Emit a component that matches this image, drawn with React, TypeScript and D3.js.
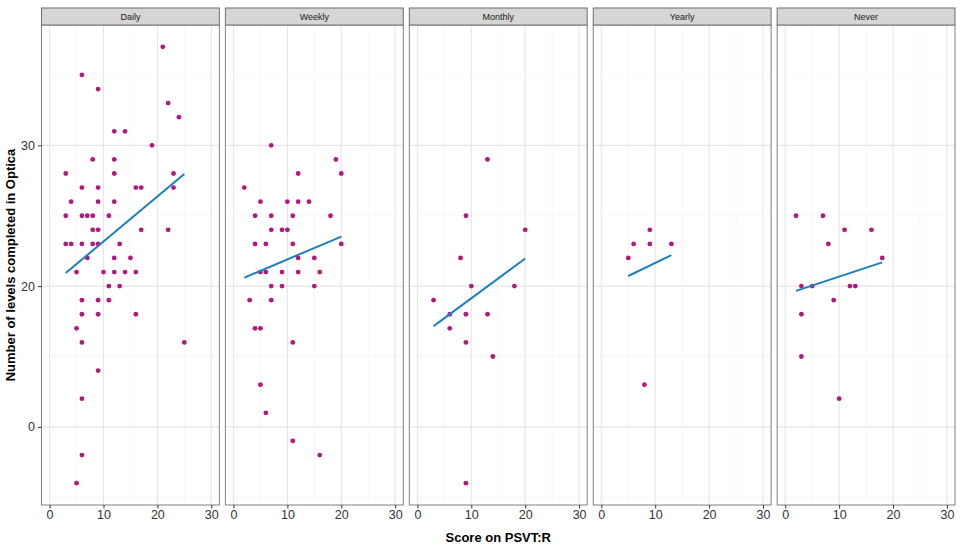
import { useEffect, useRef } from 'react'
import * as d3 from 'd3'

// panels (facets) in display order
const panels = ['Daily', 'Weekly', 'Monthly', 'Yearly', 'Never']

// points: x = score on PSVT:R, y = levels completed
const dailyX = [21, 6, 9, 22, 24, 12, 14, 19, 8, 12, 3, 12, 23, 6, 9, 16, 17, 23, 4, 9, 12, 3, 6, 7, 8, 11, 8, 9, 17, 22, 3, 4, 6, 8, 9, 13, 7, 12, 15, 5, 10, 12, 14, 16, 11, 13, 6, 9, 11, 6, 9, 16, 5, 6, 25, 9, 6, 6, 5]
const dailyY = [37, 35, 34, 33, 32, 31, 31, 30, 29, 29, 28, 28, 28, 27, 27, 27, 27, 27, 26, 26, 26, 25, 25, 25, 25, 25, 24, 24, 24, 24, 23, 23, 23, 23, 23, 23, 22, 22, 22, 21, 21, 21, 21, 21, 20, 20, 19, 19, 19, 18, 18, 18, 17, 16, 16, 14, 12, 8, 6]
const weeklyX = [7, 19, 12, 20, 2, 5, 10, 12, 14, 4, 7, 11, 18, 7, 9, 10, 4, 6, 11, 20, 12, 15, 5, 6, 9, 12, 16, 7, 9, 15, 3, 7, 4, 5, 11, 5, 6, 11, 16]
const weeklyY = [30, 29, 28, 28, 27, 26, 26, 26, 26, 25, 25, 25, 25, 24, 24, 24, 23, 23, 23, 23, 22, 22, 21, 21, 21, 21, 21, 20, 20, 20, 19, 19, 17, 17, 16, 13, 11, 9, 8]
const monthlyX = [13, 9, 20, 8, 10, 18, 3, 6, 9, 13, 6, 9, 14, 9]
const monthlyY = [29, 25, 24, 22, 20, 20, 19, 18, 18, 18, 17, 16, 15, 6]
const yearlyX = [9, 6, 9, 13, 5, 8]
const yearlyY = [24, 23, 23, 23, 22, 13]
const neverX = [2, 7, 11, 16, 8, 18, 3, 5, 12, 13, 9, 3, 3, 10]
const neverY = [25, 25, 24, 24, 23, 22, 20, 20, 20, 20, 19, 18, 15, 12]

// fitted line ends (lm)
const fitStartY = [20.93, 20.6, 17.16, 20.72, 19.66]
const fitEndY = [27.97, 23.52, 21.96, 22.2, 21.69]

const xTicks = [0, 10, 20, 30]
const yTicks = [10, 20, 30]
const yTickLabels = ['0', '20', '30']

const seriesX = [dailyX, weeklyX, monthlyX, yearlyX, neverX]
const seriesY = [dailyY, weeklyY, monthlyY, yearlyY, neverY]

export default function App() {
  const ref = useRef<SVGSVGElement>(null)

  useEffect(() => {
    const svg = d3.select(ref.current!)
    svg.selectAll('*').remove()
    const W = 963, H = 546
    const top = 25, bottom = 505, stripH = 17
    const font = '"Liberation Sans", Arial, sans-serif'

    const band = d3.scaleBand().domain(panels).range([41.5, 955]).paddingInner(0.033)
    const y = d3.scaleLinear().domain([4.45, 38.55]).range([bottom, top])

    svg.append('rect').attr('width', W).attr('height', H).attr('fill', '#fff')

    panels.forEach((p, i) => {
      const x0 = band(p)!
      const x = d3.scaleLinear().domain([-1.5, 31.5]).range([x0, x0 + band.bandwidth()])
      const g = svg.append('g')

      // minor grid
      ;[5, 15, 25].forEach(v => {
        g.append('line').attr('x1', x(v)).attr('x2', x(v)).attr('y1', top).attr('y2', bottom)
          .attr('stroke', '#f2f2f2').attr('stroke-width', 0.6)
      })
      ;[5, 15, 25, 35].forEach(v => {
        g.append('line').attr('x1', x.range()[0]).attr('x2', x.range()[1]).attr('y1', y(v)).attr('y2', y(v))
          .attr('stroke', '#f2f2f2').attr('stroke-width', 0.6)
      })
      // major grid
      xTicks.forEach(v => {
        g.append('line').attr('x1', x(v)).attr('x2', x(v)).attr('y1', top).attr('y2', bottom)
          .attr('stroke', '#e6e6e6').attr('stroke-width', 1.1)
      })
      yTicks.forEach(v => {
        g.append('line').attr('x1', x.range()[0]).attr('x2', x.range()[1]).attr('y1', y(v)).attr('y2', y(v))
          .attr('stroke', '#e6e6e6').attr('stroke-width', 1.1)
      })

      // points
      const xs = seriesX[i], ys = seriesY[i]
      g.selectAll('circle.pt').data(xs).enter().append('circle')
        .attr('cx', d => x(d)).attr('cy', (_, j) => y(ys[j])).attr('r', 2.4)
        .attr('fill', '#b5177c')

      // fitted line over data range
      const [mn, mx] = d3.extent(xs) as [number, number]
      g.append('line').attr('x1', x(mn)).attr('y1', y(fitStartY[i])).attr('x2', x(mx)).attr('y2', y(fitEndY[i]))
        .attr('stroke', '#1b7fc0').attr('stroke-width', 2)

      // panel border
      g.append('rect').attr('x', x.range()[0]).attr('y', top).attr('width', band.bandwidth()).attr('height', bottom - top)
        .attr('fill', 'none').attr('stroke', '#808080').attr('stroke-width', 1)

      // strip
      g.append('rect').attr('x', x.range()[0]).attr('y', top - stripH).attr('width', band.bandwidth()).attr('height', stripH)
        .attr('fill', '#d6d6d6').attr('stroke', '#6e6e6e').attr('stroke-width', 1)
      g.append('text').attr('x', x0 + band.bandwidth() / 2).attr('y', top - stripH / 2 + 3.2)
        .attr('text-anchor', 'middle').attr('font-family', font).attr('font-size', 9).attr('fill', '#1a1a1a').text(p)

      // x axis
      const ax = g.append('g').attr('transform', `translate(0,${bottom})`)
        .call(d3.axisBottom(x).tickValues(xTicks).tickSize(3.5).tickPadding(2).tickFormat(d3.format('d')))
      ax.select('.domain').remove()
      ax.selectAll('line').attr('stroke', '#333')
      ax.selectAll('text').attr('font-family', font).attr('font-size', 12.5).attr('fill', '#333')

      if (i === 0) {
        const ay = g.append('g').attr('transform', `translate(${x.range()[0]},0)`)
          .call(d3.axisLeft(y).tickValues(yTicks).tickSize(3.5).tickPadding(3).tickFormat((_, k) => yTickLabels[k]))
        ay.select('.domain').remove()
        ay.selectAll('line').attr('stroke', '#333')
        ay.selectAll('text').attr('font-family', font).attr('font-size', 12.5).attr('fill', '#333')
      }
    })

    svg.append('text').attr('x', (band.range()[0] + band.range()[1]) / 2).attr('y', 542)
      .attr('text-anchor', 'middle').attr('font-family', font).attr('font-size', 13).attr('font-weight', 'bold')
      .text('Score on PSVT:R')
    svg.append('text').attr('transform', `translate(15,${(top + bottom) / 2}) rotate(-90)`)
      .attr('text-anchor', 'middle').attr('font-family', font).attr('font-size', 13).attr('font-weight', 'bold')
      .text('Number of levels completed in Optica')
  }, [])

  return (
    <div style={{ position: 'fixed', left: 0, top: 0 }}>
      <svg ref={ref} width={963} height={546} style={{ display: 'block' }} />
    </div>
  )
}
